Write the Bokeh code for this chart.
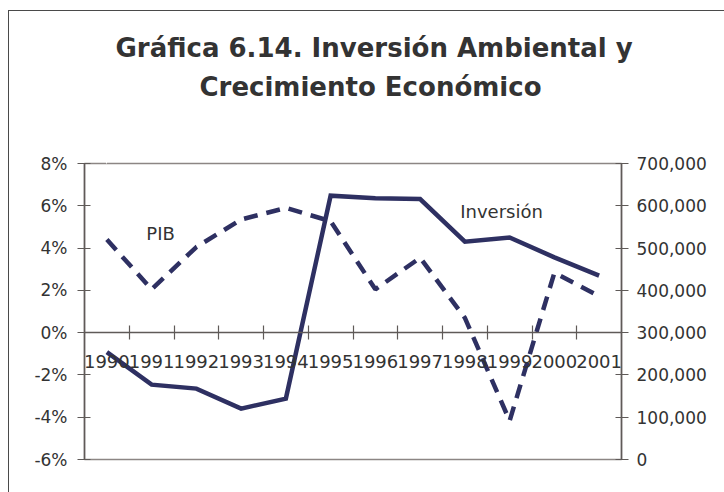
from bokeh.plotting import figure
from bokeh.models import (Range1d, FactorRange, LinearAxis, CategoricalAxis, FixedTicker, Title,
                          PrintfTickFormatter, NumeralTickFormatter, CustomJSTickFormatter, Label)
from bokeh.embed import file_html
from bokeh.resources import INLINE

# ---- data ----
years = ["1990", "1991", "1992", "1993", "1994", "1995", "1996", "1997", "1998", "1999", "2000", "2001"]
pib_pct = [4.4, 2.05, 4.05, 5.35, 5.9, 5.27, 2.05, 3.54, 0.7, -4.17, 2.83, 1.73]
inversion = [254000, 177000, 167600, 120400, 144000, 623800, 618000, 616000, 515000, 525000, 478000, 435000]
left_ticks = [-6, -4, -2, 0, 2, 4, 6, 8]
right_ticks = [0, 100000, 200000, 300000, 400000, 500000, 600000, 700000]
title_line1 = "Gráfica 6.14. Inversión Ambiental y"
title_line2 = "Crecimiento Económico"

FONT = "DejaVu Sans"
TXT = "#333333"
LINE = "#2e3062"
AX = "#5f5a58"
BORDER = "#4a4a4a"

W, H = 724, 492
ML, MR, MT, MB = 84, 103, 163, 33

p = figure(width=W, height=H, x_range=FactorRange(factors=years),
           y_range=Range1d(left_ticks[0], left_ticks[-1]),
           output_backend="svg", toolbar_location=None, x_axis_location=None,
           min_border_left=ML, min_border_right=MR, min_border_top=MT, min_border_bottom=MB)
p.extra_y_ranges = {"inv": Range1d(right_ticks[0], right_ticks[-1])}

p.xgrid.visible = False
p.ygrid.visible = False
p.outline_line_color = "#8c8684"
p.outline_line_width = 1.5
p.background_fill_color = "white"
p.border_fill_color = None
# chart-area border (left and top edges, the others lie outside the window)
p.styles = {
    "background-color": "white",
    "background-image": f"linear-gradient({BORDER}, {BORDER}), linear-gradient({BORDER}, {BORDER})",
    "background-position": "8px 10px, 8px 10px",
    "background-size": "1px 100%, 100% 1px",
    "background-repeat": "no-repeat, no-repeat",
}

# left axis
la = p.yaxis[0]
la.ticker = FixedTicker(ticks=left_ticks)
la.formatter = PrintfTickFormatter(format="%d%%")
la.axis_line_color = AX
la.axis_line_width = 1.5
la.major_tick_line_color = AX
la.major_tick_line_width = 1.2
la.major_tick_in = 6
la.major_tick_out = 7
la.minor_tick_line_color = None
la.major_label_standoff = 10
la.major_label_text_font = FONT
la.major_label_text_font_size = "17px"
la.major_label_text_color = TXT

# right axis
ra = LinearAxis(y_range_name="inv", ticker=FixedTicker(ticks=right_ticks),
                formatter=NumeralTickFormatter(format="0,0"))
ra.axis_line_color = AX
ra.axis_line_width = 1.5
ra.major_tick_line_color = AX
ra.major_tick_line_width = 1.2
ra.major_tick_in = 6
ra.major_tick_out = 7
ra.minor_tick_line_color = None
ra.major_label_standoff = 8
ra.major_label_text_font = FONT
ra.major_label_text_font_size = "17px"
ra.major_label_text_color = TXT
p.add_layout(ra, "right")

# category axis crossing at 0 % (labels only)
ca = CategoricalAxis(fixed_location=0)
ca.axis_line_color = AX
ca.axis_line_width = 1.5
ca.major_tick_line_color = None
ca.minor_tick_line_color = None
ca.major_label_standoff = 16
ca.major_label_text_font = FONT
ca.major_label_text_font_size = "18px"
ca.major_label_text_color = TXT
p.add_layout(ca, "below")

# tick marks between categories (synthetic category coordinates)
ta = LinearAxis(fixed_location=0, ticker=FixedTicker(ticks=list(range(1, len(years)))))
ta.axis_line_color = None
ta.major_tick_line_color = AX
ta.major_tick_line_width = 1.2
ta.major_tick_in = 7
ta.major_tick_out = 7
ta.minor_tick_line_color = None
ta.major_label_text_font_size = "0px"
ta.major_label_text_color = None
p.add_layout(ta, "below")

# blank spacer between the plot area and the title (one white tick, no label)
sp = LinearAxis(ticker=FixedTicker(ticks=[0.5]), formatter=CustomJSTickFormatter(code="return ''"),
                axis_line_color=None, major_tick_line_color="white", major_tick_line_width=1,
                minor_tick_line_color=None, major_tick_in=0, major_tick_out=58,
                major_label_standoff=0, major_label_text_font_size="0px")
p.add_layout(sp, "above")

# title, two lines, each placed to be centred like the original
for txt, off in [(title_line2, 115), (title_line1, 31)]:
    p.add_layout(Title(text=txt, align="left", offset=off, standoff=7, text_font=FONT,
                       text_font_size="26px", text_font_style="bold", text_color=TXT), "above")

# series
p.line(years, inversion, y_range_name="inv", line_color=LINE, line_width=4.5, line_join="miter")
p.line(years, pib_pct, line_color=LINE, line_width=4.5, line_dash="14 9")

# series labels
p.add_layout(Label(x=1.7, y=4.67, text="PIB", text_align="center",
                   text_baseline="middle", text_font=FONT, text_font_size="18px", text_color=TXT))
p.add_layout(Label(x=9.32, y=5.71, text="Inversión", text_align="center",
                   text_baseline="middle", text_font=FONT, text_font_size="18px", text_color=TXT))

open("out.html", "w").write(file_html(p, INLINE))
